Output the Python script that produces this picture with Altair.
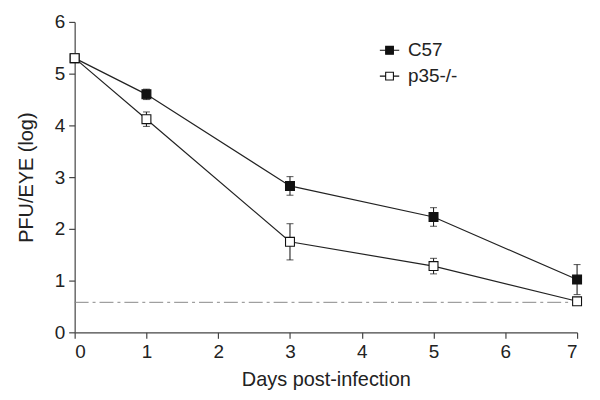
import altair as alt
import pandas as pd

days = [0, 1, 3, 5, 7]
c57_mean = [5.3, 4.6, 2.83, 2.23, 1.02]
c57_err = [0.0, 0.1, 0.18, 0.18, 0.29]
p35_mean = [5.3, 4.12, 1.75, 1.28, 0.6]
p35_err = [0.0, 0.14, 0.35, 0.15, 0.05]
series = ["C57", "p35-/-"]
limit_value = 0.58
limit_days = [0, 7]

rows = []
for name, means, errs in [(series[0], c57_mean, c57_err), (series[1], p35_mean, p35_err)]:
    for d, m, e in zip(days, means, errs):
        rows.append({"day": d, "mean": m, "lo": m - e, "hi": m + e, "group": name})
df = pd.DataFrame(rows)
err_df = df[df["hi"] > df["lo"]]
lim_df = pd.DataFrame({"day": limit_days[:1], "day2": limit_days[1:], "y": [limit_value]})

FONT = "Liberation Sans"
xscale = alt.Scale(domain=[0, 7], nice=False)
yscale = alt.Scale(domain=[0, 6], nice=False)

x = alt.X("day:Q", scale=xscale, axis=alt.Axis(title="Days post-infection", values=list(range(8)), format="d"))
y = alt.Y("mean:Q", scale=yscale, axis=alt.Axis(title="PFU/EYE (log)", values=list(range(7)), format="d"))

legend_sym = "M-1,0L-0.4,0M0.4,0L1,0M-0.4,-0.4L0.4,-0.4L0.4,0.4L-0.4,0.4Z"

limit = alt.Chart(lim_df).mark_rule(color="#888888", strokeWidth=1, strokeDash=[14, 4, 3, 4]).encode(
    x=alt.X("day:Q", scale=xscale), x2="day2:Q", y=alt.Y("y:Q", scale=yscale)
)

lines = alt.Chart(df).mark_line(color="#222222", strokeWidth=1.2).encode(
    x=x, y=y, detail="group:N"
)

rules = alt.Chart(err_df).mark_rule(color="#222222", strokeWidth=1.1).encode(
    x=alt.X("day:Q", scale=xscale), y=alt.Y("lo:Q", scale=yscale), y2="hi:Q"
)
caps_hi = alt.Chart(err_df).mark_tick(color="#222222", thickness=1.1, size=7, orient="horizontal").encode(
    x=alt.X("day:Q", scale=xscale), y=alt.Y("hi:Q", scale=yscale)
)
caps_lo = alt.Chart(err_df).mark_tick(color="#222222", thickness=1.1, size=7, orient="horizontal").encode(
    x=alt.X("day:Q", scale=xscale), y=alt.Y("lo:Q", scale=yscale)
)

points = alt.Chart(df).mark_point(shape="square", size=80, stroke="#111111", strokeWidth=1.1, opacity=1, filled=False).encode(
    x=alt.X("day:Q", scale=xscale),
    y=alt.Y("mean:Q", scale=yscale),
    fill=alt.Fill("group:N", scale=alt.Scale(domain=series, range=["#111111", "#ffffff"]),
                  legend=alt.Legend(title=None, orient="none", legendX=306, legendY=18,
                                    symbolType=legend_sym, symbolSize=380, symbolStrokeColor="#111111",
                                    symbolStrokeWidth=1.1, labelFontSize=19, labelFont=FONT,
                                    labelColor="#222222", rowPadding=5, symbolOffset=0, labelOffset=8)),
)

chart = alt.layer(limit, lines, rules, caps_hi, caps_lo, points).properties(
    width=505, height=312, padding={"left": 8, "top": 4, "right": 8, "bottom": 5}
).configure_view(stroke=None).configure_axis(
    grid=False, domainColor="#444444", tickColor="#444444", tickSize=6, domainWidth=1.2, tickWidth=1.2,
    labelFont=FONT, labelFontSize=19, labelColor="#222222", titleFont=FONT, titleFontSize=20,
    titleFontWeight="normal", titleColor="#222222", labelPadding=4
).configure_axisY(titlePadding=18).configure_axisX(titlePadding=8)

chart.save("out.html", embed_options={"renderer": "svg", "actions": False})
